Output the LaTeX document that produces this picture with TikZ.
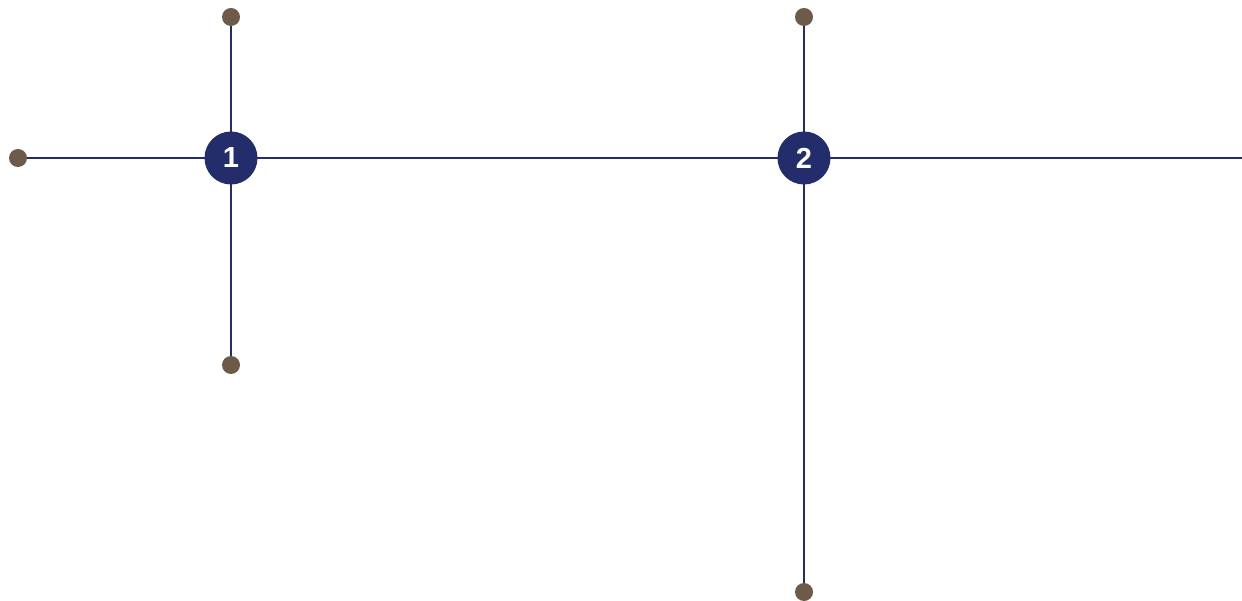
\documentclass[tikz,border=0pt]{standalone}
\usepackage{fontspec}
\setmainfont{Liberation Sans}
\usetikzlibrary{backgrounds}
\definecolor{navy}{HTML}{232D6B}
\definecolor{brown}{HTML}{6E5A48}
\begin{document}
\begin{tikzpicture}[x=1pt,y=-1pt,
  hub/.style={circle,fill=navy,minimum size=53pt,inner sep=0pt,text=white,font=\fontsize{29}{29}\selectfont\bfseries},
  endpt/.style={circle,fill=brown,minimum size=18pt,inner sep=0pt},
  link/.style={draw=navy,line width=2pt}]
\useasboundingbox (0,0) rectangle (1242,601);
\node[endpt] (t1) at (231,17) {};
\node[endpt] (l1) at (18,158) {};
\node[endpt] (b1) at (231,365) {};
\node[endpt] (t2) at (804,17) {};
\node[endpt] (b2) at (804,592) {};
\coordinate (r2) at (1242,158);
\node[hub] (n1) at (231,158) {1};
\node[hub] (n2) at (804,158) {2};
\begin{scope}[on background layer]
\draw[link] (l1.center) -- (n1.center);
\draw[link] (t1.center) -- (n1.center);
\draw[link] (b1.center) -- (n1.center);
\draw[link] (n1.center) -- (n2.center);
\draw[link] (t2.center) -- (n2.center);
\draw[link] (b2.center) -- (n2.center);
\draw[link] (n2.center) -- (r2);
\end{scope}
\end{tikzpicture}
\end{document}
